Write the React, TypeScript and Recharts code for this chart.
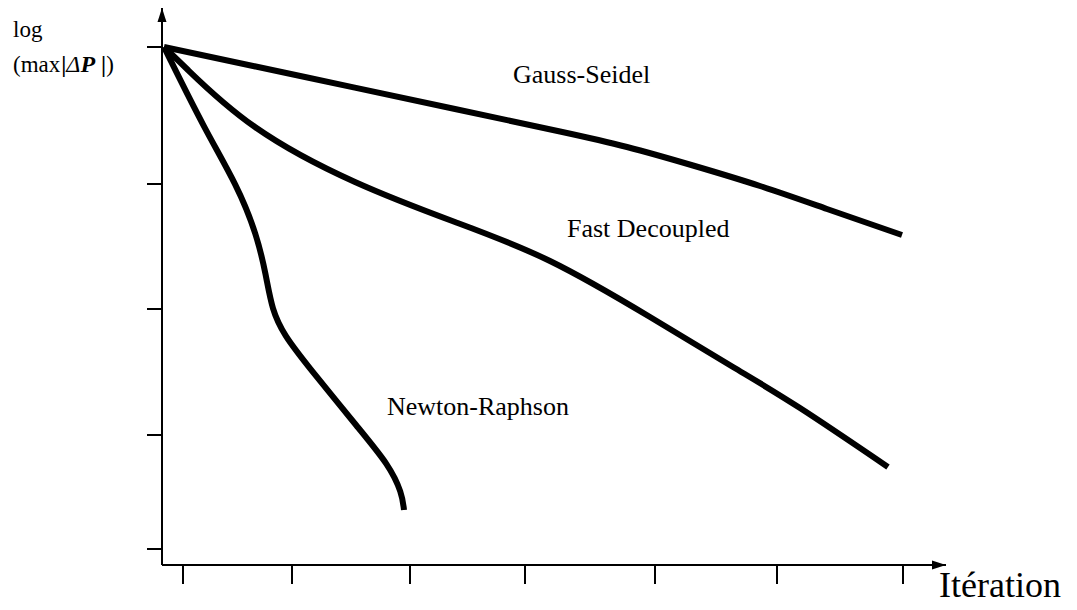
import { LineChart, Line, XAxis, YAxis, ReferenceDot } from "recharts";

// iteration axis (arbitrary units) and log(max|dP|) axis
const xTicks = [0.21, 1.3, 2.48, 3.63, 4.93, 6.15, 7.41];
const yTicks = [0.16, 1.3, 2.56, 3.81, 5.18];
const xMax = 7.84;
const yMax = 5.57;

const gaussSeidel = [
  { x: 0.02, y: 5.18 },
  { x: 1.43, y: 4.88 },
  { x: 2.93, y: 4.56 },
  { x: 3.98, y: 4.335 },
  { x: 4.65, y: 4.18 },
  { x: 5.31, y: 3.995 },
  { x: 5.98, y: 3.79 },
  { x: 6.65, y: 3.56 },
  { x: 7.4, y: 3.3 },
];

const fastDecoupled = [
  { x: 0.02, y: 5.18 },
  { x: 0.26, y: 4.95 },
  { x: 0.93, y: 4.38 },
  { x: 1.93, y: 3.83 },
  { x: 2.93, y: 3.43 },
  { x: 3.88, y: 3.04 },
  { x: 4.88, y: 2.48 },
  { x: 5.71, y: 1.98 },
  { x: 6.38, y: 1.57 },
  { x: 7.26, y: 0.98 },
];

const newtonRaphson = [
  { x: 0.02, y: 5.18 },
  { x: 0.43, y: 4.35 },
  { x: 0.75, y: 3.8 },
  { x: 0.95, y: 3.3 },
  { x: 1.04, y: 2.9 },
  { x: 1.1, y: 2.55 },
  { x: 1.22, y: 2.3 },
  { x: 1.45, y: 2.0 },
  { x: 1.98, y: 1.35 },
  { x: 2.27, y: 1.0 },
  { x: 2.4, y: 0.72 },
  { x: 2.42, y: 0.55 },
];

// label anchors, in data units
const curveLabels = [
  { text: "Gauss-Seidel", x: 3.51, y: 4.82 },
  { text: "Fast Decoupled", x: 4.05, y: 3.28 },
  { text: "Newton-Raphson", x: 2.25, y: 1.5 },
];

const SERIF = '"Liberation Serif", "Times New Roman", serif';

function EmptyTick() {
  return <g />;
}

function textShape(text: string, size: number) {
  return (props: any) => (
    <text
      x={props.cx}
      y={props.cy}
      fontFamily={SERIF}
      fontSize={size}
      fill="#000"
    >
      {text}
    </text>
  );
}

function YTitle(props: any) {
  const { cx, cy } = props;
  return (
    <text x={cx} y={cy} fontFamily={SERIF} fontSize={23} fill="#000">
      <tspan x={cx} y={cy}>log</tspan>
      <tspan x={cx} y={cy + 35}>
        (max
        <tspan fontWeight="bold" dx={1}>|</tspan>
        <tspan fontStyle="italic" fontSize={24}>Δ</tspan>
        <tspan fontStyle="italic" fontWeight="bold" fontSize={24}>P</tspan>
        <tspan dx={6} fontWeight="bold">|</tspan>)
      </tspan>
    </text>
  );
}

function ArrowRight(props: any) {
  const { cx, cy } = props;
  return <path d={`M${cx},${cy} L${cx - 14},${cy - 4.5} L${cx - 14},${cy + 4.5} Z`} fill="#000" />;
}

function ArrowUp(props: any) {
  const { cx, cy } = props;
  return <path d={`M${cx},${cy} L${cx - 4.5},${cy + 14} L${cx + 4.5},${cy + 14} Z`} fill="#000" />;
}

export default function App() {
  return (
    <div style={{ position: "absolute", left: 0, top: 0, background: "#fff" }}>
      <LineChart
        width={1077}
        height={610}
        margin={{ top: 8, right: 131, left: 132, bottom: 15 }}
      >
        <XAxis
          type="number"
          dataKey="x"
          domain={[0, xMax]}
          ticks={xTicks}
          allowDataOverflow
          height={30}
          tick={EmptyTick}
          tickSize={19}
          axisLine={{ stroke: "#000", strokeWidth: 2 }}
          tickLine={{ stroke: "#000", strokeWidth: 2 }}
        />
        <YAxis
          type="number"
          dataKey="y"
          domain={[0, yMax]}
          ticks={yTicks}
          allowDataOverflow
          width={30}
          tick={EmptyTick}
          tickSize={15}
          axisLine={{ stroke: "#000", strokeWidth: 2 }}
          tickLine={{ stroke: "#000", strokeWidth: 2 }}
        />
        <Line
          data={gaussSeidel}
          dataKey="y"
          type="natural"
          stroke="#000"
          strokeWidth={6}
          dot={false}
          activeDot={false}
          isAnimationActive={false}
        />
        <Line
          data={fastDecoupled}
          dataKey="y"
          type="natural"
          stroke="#000"
          strokeWidth={6}
          dot={false}
          activeDot={false}
          isAnimationActive={false}
        />
        <Line
          data={newtonRaphson}
          dataKey="y"
          type="basis"
          stroke="#000"
          strokeWidth={6}
          dot={false}
          activeDot={false}
          isAnimationActive={false}
        />
        {curveLabels.map((l) => (
          <ReferenceDot
            key={l.text}
            x={l.x}
            y={l.y}
            r={0}
            ifOverflow="visible"
            shape={textShape(l.text, 26)}
          />
        ))}
        <ReferenceDot x={xMax} y={0} ifOverflow="visible" shape={ArrowRight} />
        <ReferenceDot x={0} y={yMax} ifOverflow="visible" shape={ArrowUp} />
        <ReferenceDot
          x={7.77}
          y={-0.32}
          ifOverflow="visible"
          shape={textShape("Itération", 36)}
        />
        <ReferenceDot x={-1.49} y={5.28} ifOverflow="visible" shape={YTitle} />
      </LineChart>
    </div>
  );
}
